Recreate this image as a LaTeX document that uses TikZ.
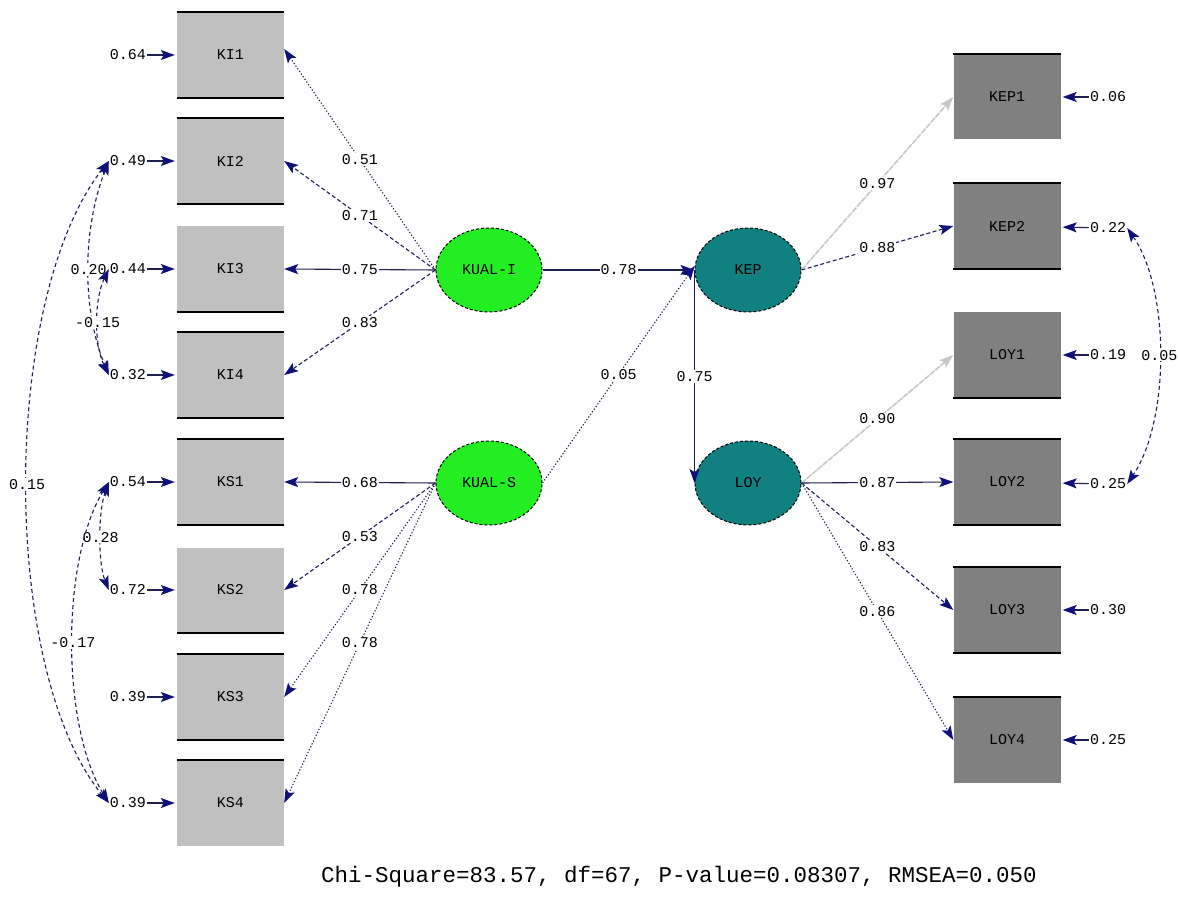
\documentclass[tikz,border=0pt]{standalone}
\usepackage{fontspec}
\newfontfamily\monof{Liberation Mono}
\usetikzlibrary{shapes.geometric,arrows.meta}
\definecolor{lgray}{HTML}{C0C0C0}
\definecolor{dgray}{HTML}{808080}
\definecolor{lgreen}{HTML}{22EE22}
\definecolor{teal2}{HTML}{118080}
\definecolor{navy2}{HTML}{10107A}
\definecolor{linec}{HTML}{202050}
\definecolor{pale}{HTML}{C8C8C8}
\tikzset{
  lbl/.style={font=\monof\fontsize{15}{18}\selectfont},
  lbox/.style={lbl, rectangle, fill=lgray, minimum width=107pt, minimum height=85pt, inner sep=0pt},
  rbox/.style={lbox, fill=dgray},
  lat1/.style={lbl, ellipse, fill=lgreen, draw=black, densely dashed, line width=1pt, minimum width=106pt, minimum height=84pt, inner sep=0pt},
  lat2/.style={lat1, fill=teal2},
  val/.style={lbl, inner sep=1pt, fill=white},
  ev/.style={lbl, inner sep=1pt},
  tipn/.style={-{Stealth[length=14pt,width=10pt,inset=3pt,color=navy2]}},
  arr/.style={tipn, draw=linec, line width=1.1pt},
  solidp/.style={arr},
  dashp/.style={arr, dash pattern=on 4pt off 2.5pt},
  dotp/.style={arr, dash pattern=on 1.2pt off 2pt},
  grayp/.style={-{Stealth[length=14pt,width=10pt,inset=3pt,color=pale]}, draw=pale, line width=1.6pt, dash pattern=on 6pt off 1pt},
  err/.style={arr, shorten >=2pt},
  cov/.style={{Stealth[length=14pt,width=10pt,inset=3pt,color=navy2]}-{Stealth[length=14pt,width=10pt,inset=3pt,color=navy2]}, draw=linec, line width=1.1pt, dash pattern=on 4pt off 3pt},
  rim/.style={draw=black, line width=1.8pt}
}
\begin{document}
\begin{tikzpicture}[x=1pt,y=-1pt]
\useasboundingbox[fill=white] (0,0) rectangle (1179,917);

% left indicator boxes
\node[lbox] (ki1) at (230.5,55) {KI1};
\node[lbox] (ki2) at (230.5,161) {KI2};
\node[lbox] (ki3) at (230.5,269) {KI3};
\node[lbox] (ki4) at (230.5,375) {KI4};
\node[lbox] (ks1) at (230.5,482) {KS1};
\node[lbox] (ks2) at (230.5,590) {KS2};
\node[lbox] (ks3) at (230.5,697) {KS3};
\node[lbox] (ks4) at (230.5,803) {KS4};
\foreach \b in {ki1,ki2,ki4,ks1,ks3,ks4}{\draw[rim] (\b.north west) -- (\b.north east);}
\foreach \b in {ki1,ki2,ki3,ki4,ks1,ks2,ks3}{\draw[rim] (\b.south west) -- (\b.south east);}

% right indicator boxes
\node[rbox] (kep1) at (1007,97) {KEP1};
\node[rbox] (kep2) at (1007,226) {KEP2};
\node[rbox] (loy1) at (1007,355) {LOY1};
\node[rbox] (loy2) at (1007,482) {LOY2};
\node[rbox] (loy3) at (1007,610) {LOY3};
\node[rbox] (loy4) at (1007,740) {LOY4};
\foreach \b in {kep1,kep2,loy2,loy3,loy4}{\draw[rim] (\b.north west) -- (\b.north east);}
\foreach \b in {kep2,loy1,loy2,loy3}{\draw[rim] (\b.south west) -- (\b.south east);}

% latent variables
\node[lat1] (kuali) at (489,270) {KUAL-I};
\node[lat1] (kuals) at (489,483) {KUAL-S};
\node[lat2] (kep) at (748,270) {KEP};
\node[lat2] (loy) at (748,483) {LOY};

% error variances left
\node[ev] (eki1) at (128,55) {0.64};
\node[ev] (eki2) at (128,161) {0.49};
\node[ev] (eki3) at (128,269) {0.44};
\node[ev] (eki4) at (128,375) {0.32};
\node[ev] (eks1) at (128,482) {0.54};
\node[ev] (eks2) at (128,590) {0.72};
\node[ev] (eks3) at (128,697) {0.39};
\node[ev] (eks4) at (128,803) {0.39};
\foreach \e/\b in {eki1/ki1,eki2/ki2,eki3/ki3,eki4/ki4,eks1/ks1,eks2/ks2,eks3/ks3,eks4/ks4}{\draw[err] (\e) -- (\b);}

% error variances right
\node[ev] (ekep1) at (1108,97) {0.06};
\node[ev] (ekep2) at (1108,228) {0.22};
\node[ev] (eloy1) at (1108,355) {0.19};
\node[ev] (eloy2) at (1108,484) {0.25};
\node[ev] (eloy3) at (1108,610) {0.30};
\node[ev] (eloy4) at (1108,740) {0.25};
\foreach \e/\b in {ekep1/kep1,ekep2/kep2,eloy1/loy1,eloy2/loy2,eloy3/loy3,eloy4/loy4}{\draw[err] (\e) -- (\b);}

% loadings KUAL-I
\draw[dotp] (kuali.west) -- node[val] {0.51} ([yshift=6pt]ki1.east);
\draw[dashp] (kuali.west) -- node[val] {0.71} (ki2.east);
\draw[solidp] (kuali.west) -- node[val] {0.75} (ki3.east);
\draw[dashp] (kuali.west) -- node[val] {0.83} (ki4.east);
% loadings KUAL-S
\draw[solidp] (kuals.west) -- node[val] {0.68} (ks1.east);
\draw[dashp] (kuals.west) -- node[val] {0.53} (ks2.east);
\draw[dotp] (kuals.west) -- node[val] {0.78} (ks3.east);
\draw[dotp] (kuals.west) -- node[val] {0.78} (ks4.east);

% structural paths
\draw[solidp] (kuali.east) -- node[val] {0.78} (kep.west);
\draw[dotp] (kuals.east) -- node[val] {0.05} ([yshift=4pt]kep.west);
\draw[solidp] (kep.west) -- node[val] {0.75} (loy.west);

% loadings KEP / LOY
\draw[grayp] (kep.east) -- node[val] {0.97} (kep1.west);
\draw[dashp] (kep.east) -- node[val] {0.88} (kep2.west);
\draw[grayp] (loy.east) -- node[val] {0.90} (loy1.west);
\draw[solidp] (loy.east) -- node[val] {0.87} (loy2.west);
\draw[dashp] (loy.east) -- node[val] {0.83} (loy3.west);
\draw[dotp] (loy.east) -- node[val] {0.86} (loy4.west);

% error covariances
\draw[cov] (eki2.west) .. controls (0,300) and (0,670) .. node[val,pos=0.5] {0.15} (eks4.west);
\draw[cov] (eki2.west) .. controls (82,230) and (82,310) .. node[val,pos=0.5] {0.20} (eki4.west);
\draw[cov] (eki3.west) .. controls (94,300) and (94,345) .. node[val,pos=0.5] {-0.15} (eki4.west);
\draw[cov] (eks1.west) .. controls (98,512) and (98,563) .. node[val,pos=0.5] {0.28} (eks2.west);
\draw[cov] (eks1.west) .. controls (61,560) and (61,725) .. node[val,pos=0.5] {-0.17} (eks4.west);
\draw[cov] (ekep2.east) .. controls (1170,290) and (1170,420) .. node[val,pos=0.5] {0.05} (eloy2.east);

% fit statistics
\node[lbl, font=\monof\fontsize{22.5}{26}\selectfont] (fit) at (679,877) {Chi-Square=83.57, df=67, P-value=0.08307, RMSEA=0.050};
\end{tikzpicture}
\end{document}
